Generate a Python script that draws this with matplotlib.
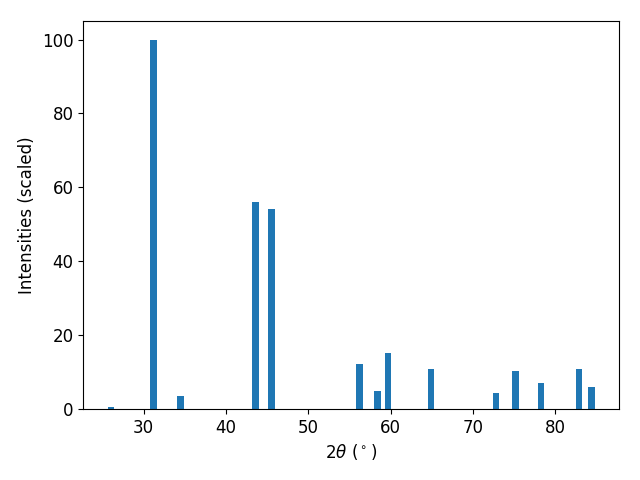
import matplotlib
matplotlib.use("Agg")
import matplotlib.pyplot as plt

# peak positions (2 theta, degrees) and scaled intensities
two_theta = [26.0, 31.2, 34.5, 43.6, 45.5, 56.25, 58.4, 59.7, 64.9, 72.8, 75.2, 78.3, 82.9, 84.4]
intensity = [0.4, 100.0, 3.5, 56.0, 54.0, 12.2, 4.9, 15.2, 10.8, 4.3, 10.3, 7.0, 10.8, 6.0]

plt.rcParams['font.size'] = 12

fig, ax = plt.subplots(figsize=(6.4, 4.8), dpi=100)
ax.bar(two_theta, intensity, width=0.8, color='#1f77b4')
ax.set_xlabel(r'$2\theta$ ($^\circ$)')
ax.set_ylabel('Intensities (scaled)')
fig.subplots_adjust(left=0.13, right=0.967, top=0.956, bottom=0.148)
fig.savefig('out.png')
